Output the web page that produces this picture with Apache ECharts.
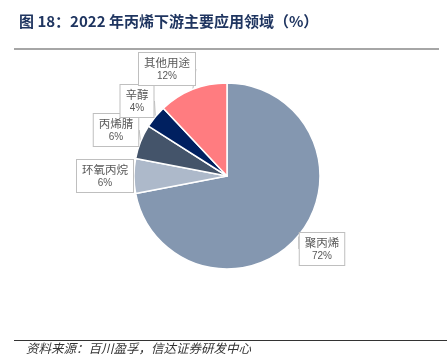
<!DOCTYPE html>
<html>
<head>
<meta charset="utf-8">
<script src="https://cdn.jsdelivr.net/npm/echarts@6/dist/echarts.min.js"></script>
<style>
  html, body { margin: 0; padding: 0; background: #fff; }
  #chart { width: 447px; height: 364px; }
</style>
</head>
<body>
<div id="chart"></div>
<script>
var names = ['聚丙烯', '环氧丙烷', '丙烯腈', '辛醇', '其他用途'];
var shares = [72, 6, 6, 4, 12];
var colors = ['#8497B0', '#ADB9CA', '#44546A', '#002060', '#FF7C80'];

// where each callout box sits (centre of the box)
var boxPos = [[322, 249], [105, 176], [116, 130], [137, 101], [167, 69]];

var myChart = echarts.init(document.getElementById('chart'));

myChart.setOption({
  animation: false,
  title: {
    text: '图 18：2022 年丙烯下游主要应用领域（%）',
    left: 14,
    top: 9,
    textStyle: {
      color: '#1F3560',
      fontSize: 15,
      fontWeight: 'bold',
      fontFamily: 'Noto Sans CJK SC'
    }
  },
  graphic: [
    { type: 'line', shape: { x1: 14, y1: 49, x2: 439, y2: 49 }, style: { stroke: '#A6A6A6', lineWidth: 2 } },
    { type: 'line', shape: { x1: 14, y1: 340.5, x2: 447, y2: 340.5 }, style: { stroke: '#333', lineWidth: 1 } },
    {
      type: 'text', left: 26, top: 342,
      style: {
        text: '资料来源：百川盈孚，信达证券研发中心',
        fill: '#333', font: 'italic 12.5px "Noto Sans CJK SC"'
      }
    }
  ],
  series: [{
    type: 'pie',
    center: [227, 176],
    radius: [0, 93],
    startAngle: 90,
    clockwise: true,
    data: names.map(function (n, i) {
      return { name: n, value: shares[i], itemStyle: { color: colors[i] } };
    }),
    itemStyle: { borderColor: '#fff', borderWidth: 1.5 },
    label: {
      show: true,
      position: 'outside',
      formatter: '{n|{b}}\n{v|{c}%}',
      backgroundColor: '#fff',
      borderColor: '#BFBFBF',
      borderWidth: 1,
      padding: [3, 5, 2, 5],
      rich: {
        n: { fontSize: 11.5, color: '#595959', fontFamily: 'Noto Sans CJK SC', align: 'center', lineHeight: 14 },
        v: { fontSize: 10, color: '#595959', fontFamily: 'Liberation Sans', align: 'center', lineHeight: 13 }
      }
    },
    labelLine: {
      show: true,
      length: 4,
      length2: 0,
      lineStyle: { color: '#BFBFBF', width: 1 }
    },
    labelLayout: function (p) {
      var b = boxPos[p.dataIndex];
      return { x: b[0], y: b[1], align: 'center', verticalAlign: 'middle' };
    }
  }]
});
</script>
</body>
</html>
